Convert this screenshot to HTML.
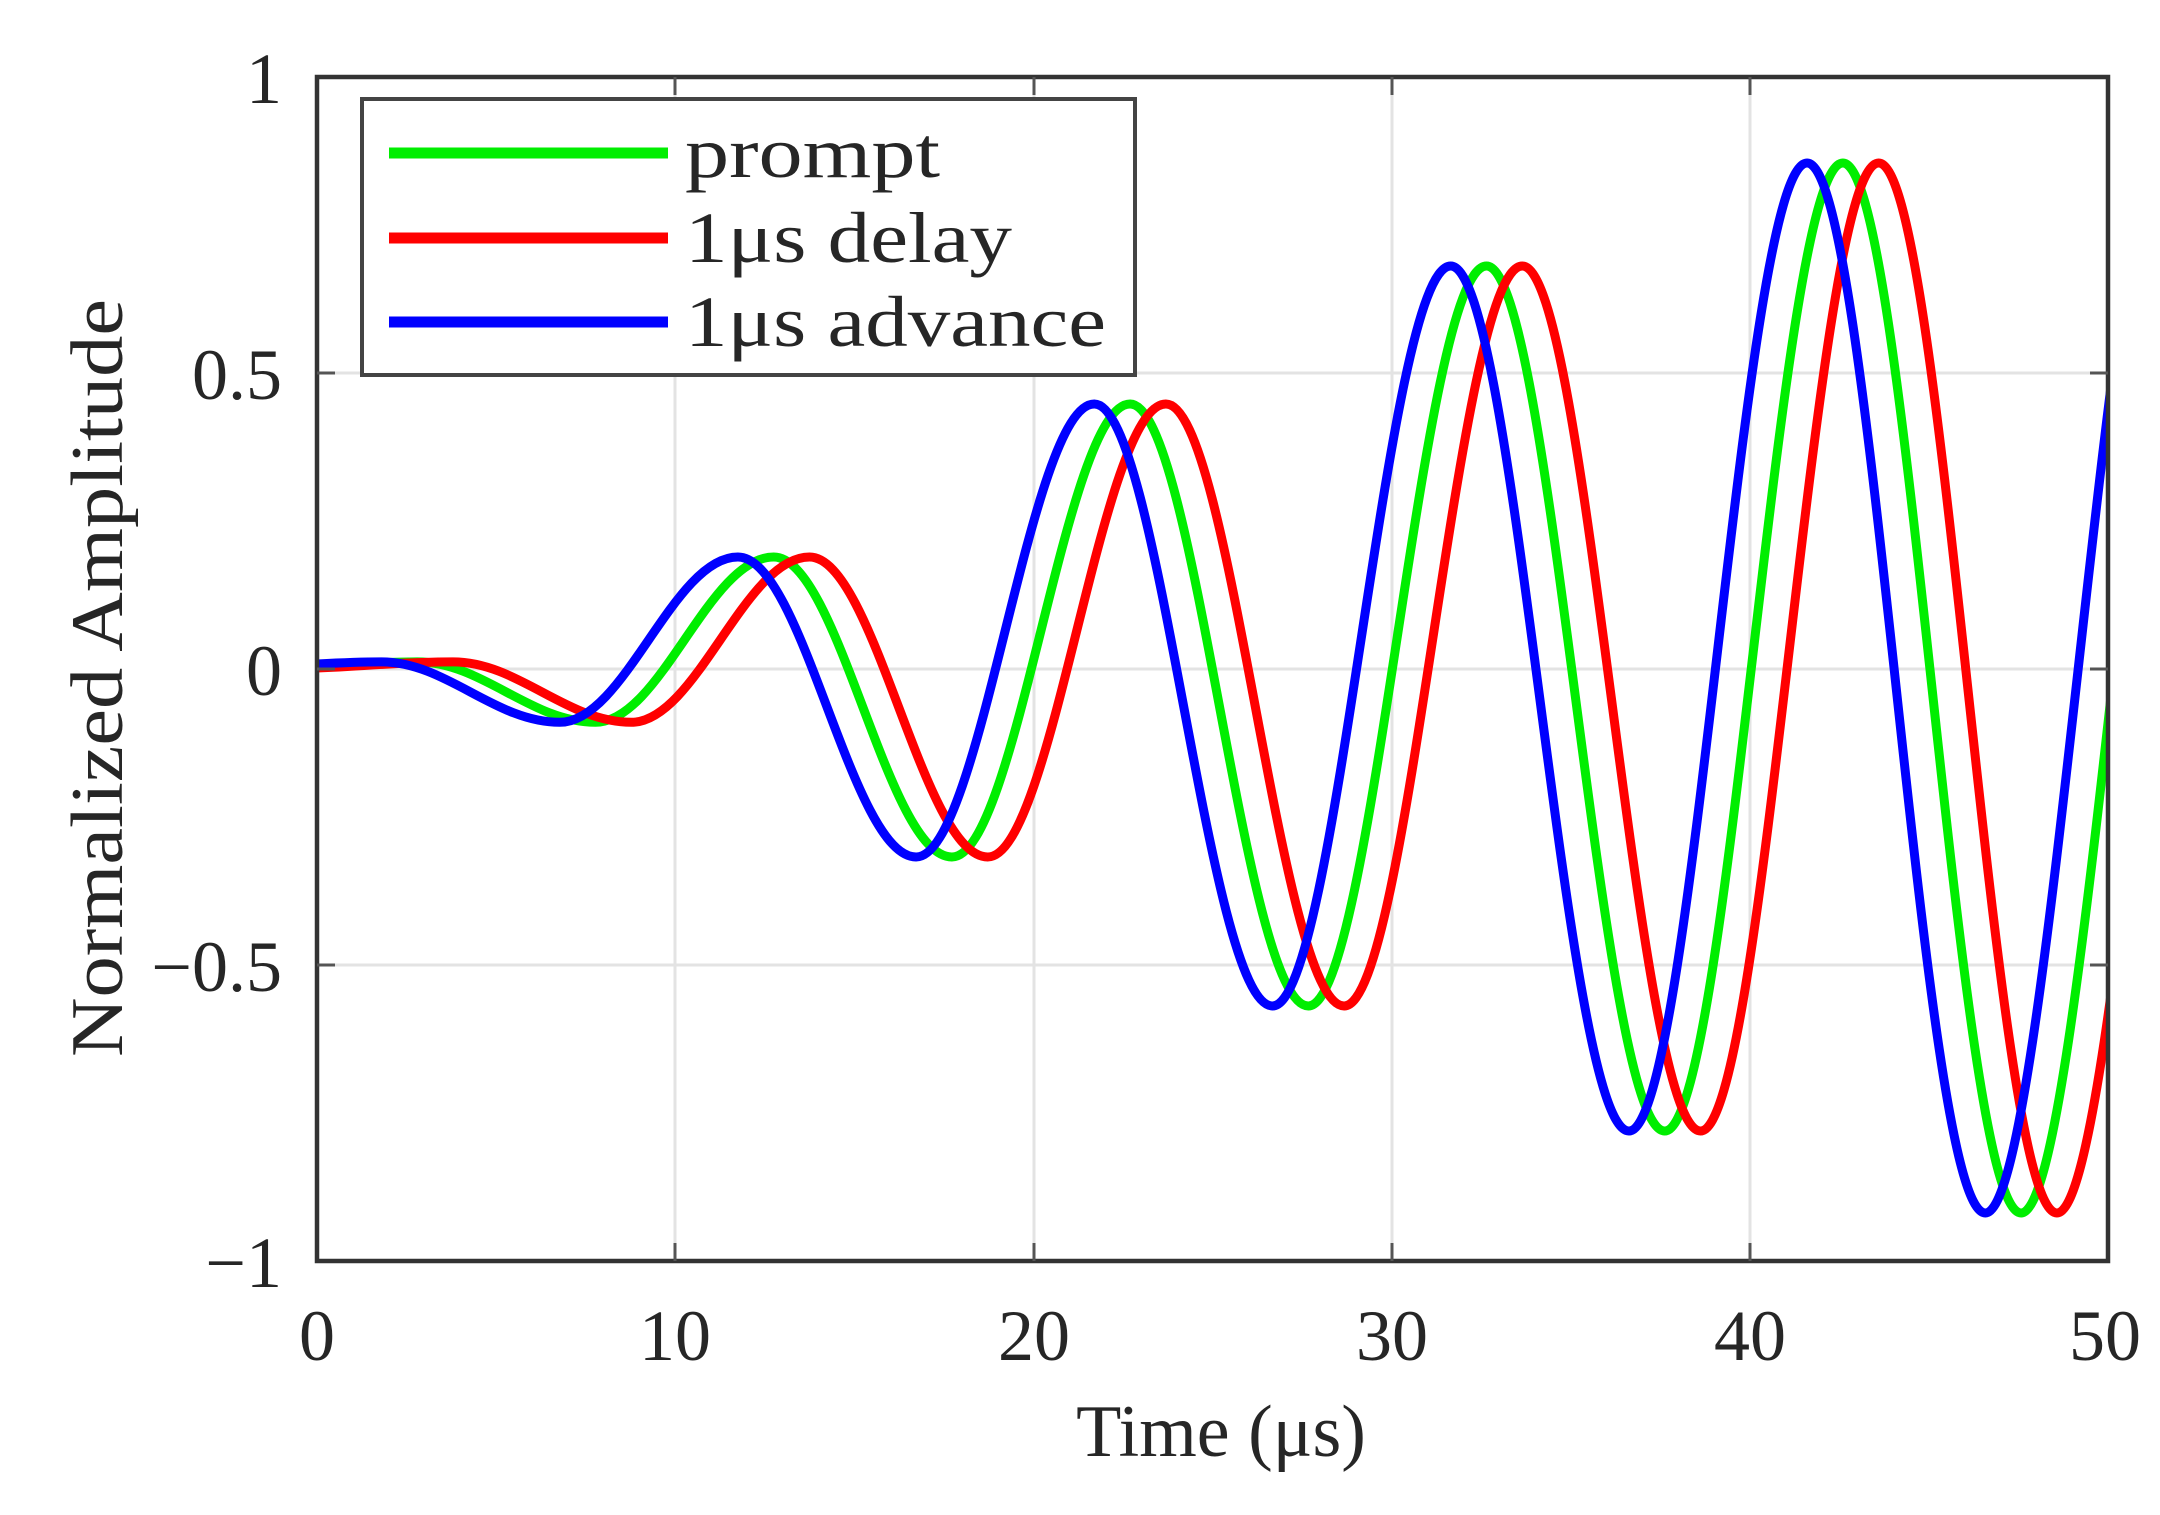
<!DOCTYPE html>
<html><head><meta charset="utf-8"><style>
html,body{margin:0;padding:0;background:#fff;}
svg{display:block;}
text{font-family:"Liberation Serif",serif;fill:#262626;}
</style></head><body>
<svg width="2160" height="1515" viewBox="0 0 2160 1515" xmlns="http://www.w3.org/2000/svg">
<defs><clipPath id="cp"><rect x="317" y="77" width="1791" height="1184"/></clipPath></defs>
<rect width="2160" height="1515" fill="#fff"/>
<g stroke="#e3e3e3" stroke-width="3">
<line x1="675" y1="77" x2="675" y2="1261"/><line x1="1034" y1="77" x2="1034" y2="1261"/>
<line x1="1392" y1="77" x2="1392" y2="1261"/><line x1="1750" y1="77" x2="1750" y2="1261"/>
<line x1="317" y1="373" x2="2108" y2="373"/><line x1="317" y1="669" x2="2108" y2="669"/>
<line x1="317" y1="965" x2="2108" y2="965"/>
</g>
<g clip-path="url(#cp)" fill="none" stroke-width="9" stroke-linejoin="round">
<path stroke="#00ee00" d="M239.1 669 C304 669 352.4 661.9 417.3 661.9 S530.6 722.3 595.5 722.3 S708.8 557 773.7 557 S887 857 951.9 857 S1065.2 404 1130.1 404 S1243.4 1006 1308.3 1006 S1421.6 266 1486.5 266 S1599.8 1131 1664.7 1131 S1778 163 1842.9 163 S1956.2 1213 2021.1 1213 S2145 95 2212 95"/>
<path stroke="#ff0000" d="M274.9 669 C339.8 669 388.2 661.9 453.1 661.9 S566.4 722.3 631.3 722.3 S744.6 557 809.5 557 S922.8 857 987.7 857 S1101 404 1165.9 404 S1279.2 1006 1344.1 1006 S1457.4 266 1522.3 266 S1635.6 1131 1700.5 1131 S1813.8 163 1878.7 163 S1992 1213 2056.9 1213 S2181 95 2248 95"/>
<path stroke="#0000ff" d="M203.3 669 C268.2 669 316.6 661.9 381.5 661.9 S494.8 722.3 559.7 722.3 S673 557 737.9 557 S851.2 857 916.1 857 S1029.4 404 1094.3 404 S1207.6 1006 1272.5 1006 S1385.8 266 1450.7 266 S1564 1131 1628.9 1131 S1742.2 163 1807.1 163 S1920.4 1213 1985.3 1213 S2109 95 2176 95"/>
</g>
<g fill="none">
<rect x="317" y="77" width="1791" height="1184" stroke="#333" stroke-width="4.5"/>
<path d="M675 1261v-18M1034 1261v-18M1392 1261v-18M1750 1261v-18M675 77v18M1034 77v18M1392 77v18M1750 77v18M317 373h18M317 669h18M317 965h18M2108 373h-18M2108 669h-18M2108 965h-18" stroke="#555" stroke-width="3"/>
</g>
<rect x="362" y="99" width="773" height="276" fill="#fff" stroke="#444" stroke-width="4"/>
<line x1="389" y1="153" x2="668" y2="153" stroke="#00ee00" stroke-width="11"/>
<line x1="389" y1="238" x2="668" y2="238" stroke="#ff0000" stroke-width="11"/>
<line x1="389" y1="322" x2="668" y2="322" stroke="#0000ff" stroke-width="11"/>
<g font-size="72">
<text x="685" y="177" textLength="255" lengthAdjust="spacingAndGlyphs">prompt</text>
<text x="685" y="262" textLength="327" lengthAdjust="spacingAndGlyphs">1μs delay</text>
<text x="685" y="346" textLength="421" lengthAdjust="spacingAndGlyphs">1μs advance</text>
</g>
<g font-size="72" text-anchor="end">
<text x="282" y="103">1</text>
<text x="282" y="399">0.5</text>
<text x="282" y="695">0</text>
<text x="282" y="991">−0.5</text>
<text x="282" y="1287">−1</text>
</g>
<g font-size="72" text-anchor="middle">
<text x="317" y="1360">0</text>
<text x="675" y="1360">10</text>
<text x="1034" y="1360">20</text>
<text x="1392" y="1360">30</text>
<text x="1750" y="1360">40</text>
<text x="2105" y="1360">50</text>
<text x="1221" y="1456" font-size="74">Time (μs)</text>
<text transform="translate(122,678) rotate(-90)" font-size="74" textLength="758" lengthAdjust="spacingAndGlyphs">Normalized Amplitude</text>
</g>
</svg>
</body></html>
